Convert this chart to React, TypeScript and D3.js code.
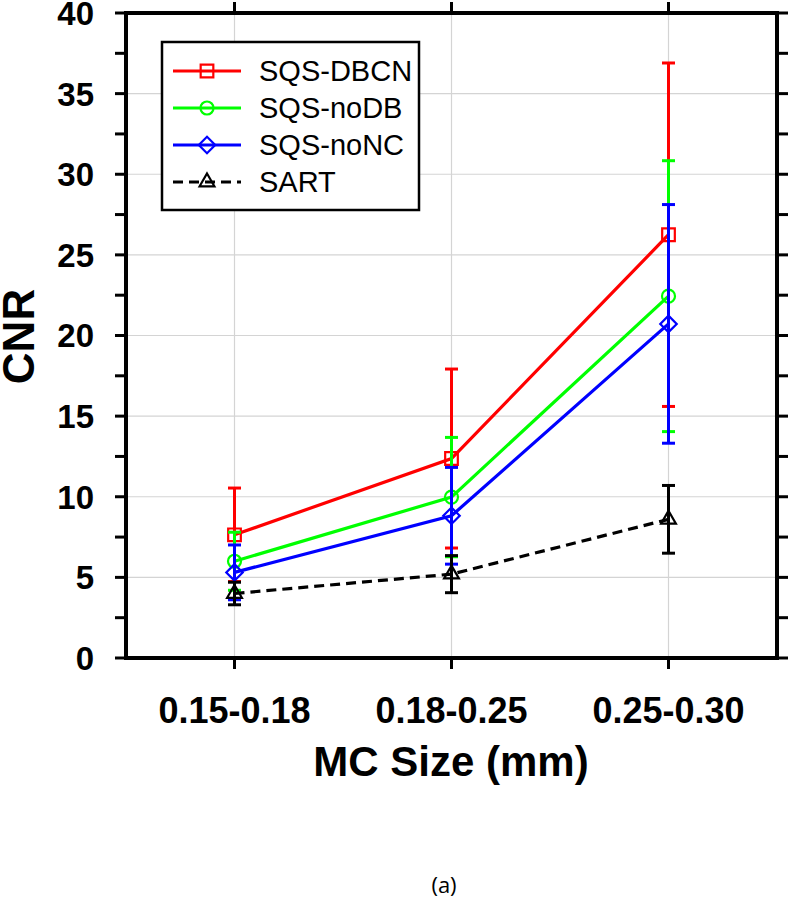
import React from "react";
import * as d3 from "d3";

const categories = ["0.15-0.18", "0.18-0.25", "0.25-0.30"];
const seriesNames = ["SQS-DBCN", "SQS-noDB", "SQS-noNC", "SART"];
const seriesColors = ["#ff0000", "#00ff00", "#0000ff", "#000000"];
const seriesSymbols = ["square", "circle", "diamond", "triangle"];
const dbcnMean = [7.64, 12.37, 26.25];
const dbcnErr = [2.9, 5.55, 10.65];
const nodbMean = [6.0, 9.98, 22.44];
const nodbErr = [1.8, 3.7, 8.4];
const noncMean = [5.31, 8.82, 20.72];
const noncErr = [1.7, 3.0, 7.4];
const sartMean = [4.0, 5.2, 8.6];
const sartErr = [0.7, 1.15, 2.1];
const yTicks = [0, 5, 10, 15, 20, 25, 30, 35, 40];
const yMinorTicks = [2.5, 7.5, 12.5, 17.5, 22.5, 27.5, 32.5, 37.5];

const means = [dbcnMean, nodbMean, noncMean, sartMean];
const errs = [dbcnErr, nodbErr, noncErr, sartErr];

const FONT = "'Liberation Sans', Arial, Helvetica, sans-serif";

const L = 126, R = 777, T = 13, B = 658;

function symbolPath(kind: string) {
  if (kind === "square") return d3.symbol(d3.symbolSquare, 160)() as string;
  if (kind === "circle") return d3.symbol(d3.symbolCircle, 133)() as string;
  if (kind === "diamond") return d3.symbol(d3.symbolSquare, 135)() as string;
  return d3.symbol(d3.symbolTriangle, 95)() as string;
}

function Marker({ kind, x, y, color }: { kind: string; x: number; y: number; color: string }) {
  const rot = kind === "diamond" ? " rotate(45)" : "";
  return (
    <path
      d={symbolPath(kind)}
      transform={`translate(${x},${y})${rot}`}
      fill="none"
      stroke={color}
      strokeWidth={2.2}
    />
  );
}

export default function App() {
  const x = d3.scalePoint<string>().domain(categories).range([L, R]).padding(0.5);
  const y = d3.scaleLinear().domain([0, 40]).range([B, T]);
  const line = d3
    .line<number>()
    .x((_, i) => x(categories[i]) as number)
    .y((d) => y(d));

  const tickLen = 11;

  return (
    <svg
      width={789}
      height={900}
      style={{ position: "absolute", left: 0, top: 0, display: "block", background: "#fff" }}
      fontFamily={FONT}
    >
      <rect x={0} y={0} width={789} height={900} fill="#fff" />
      {/* grid */}
      {yTicks.filter((t) => t > 0 && t < 40).map((t) => (
        <line key={"gy" + t} x1={L} x2={R} y1={y(t)} y2={y(t)} stroke="#d4d4d4" strokeWidth={1.2} />
      ))}
      {categories.map((c) => (
        <line key={"gx" + c} x1={x(c)} x2={x(c)} y1={T} y2={B} stroke="#d4d4d4" strokeWidth={1.2} />
      ))}

      {/* series */}
      {seriesNames.map((name, si) => {
        const col = seriesColors[si];
        const m = means[si];
        const e = errs[si];
        return (
          <g key={name}>
            <path
              d={line(m) as string}
              fill="none"
              stroke={col}
              strokeWidth={3.2}
              strokeDasharray={si === 3 ? "10,6" : undefined}
            />
            {m.map((v, i) => {
              const cx = x(categories[i]) as number;
              return (
                <g key={i}>
                  <line x1={cx} x2={cx} y1={y(v + e[i])} y2={y(v - e[i])} stroke={col} strokeWidth={3} />
                  <line x1={cx - 6.5} x2={cx + 6.5} y1={y(v + e[i])} y2={y(v + e[i])} stroke={col} strokeWidth={3} />
                  <line x1={cx - 6.5} x2={cx + 6.5} y1={y(v - e[i])} y2={y(v - e[i])} stroke={col} strokeWidth={3} />
                </g>
              );
            })}
            {m.map((v, i) => (
              <Marker key={"m" + i} kind={seriesSymbols[si]} x={x(categories[i]) as number} y={y(v)} color={col} />
            ))}
          </g>
        );
      })}

      {/* axes ticks */}
      {[...yTicks, ...yMinorTicks].map((t) => (
        <g key={"t" + t}>
          <line x1={L - tickLen} x2={L} y1={y(t)} y2={y(t)} stroke="#000" strokeWidth={3} />
          <line x1={R} x2={R + tickLen} y1={y(t)} y2={y(t)} stroke="#000" strokeWidth={3} />
        </g>
      ))}
      {categories.map((c) => (
        <g key={"xt" + c}>
          <line x1={x(c)} x2={x(c)} y1={B} y2={B + tickLen} stroke="#000" strokeWidth={3} />
          <line x1={x(c)} x2={x(c)} y1={T - tickLen} y2={T} stroke="#000" strokeWidth={3} />
        </g>
      ))}
      {/* frame */}
      <rect x={L} y={T} width={R - L} height={B - T} fill="none" stroke="#000" strokeWidth={4} />

      {/* y tick labels */}
      {yTicks.map((t) => (
        <text
          key={"yl" + t}
          x={94}
          y={y(t)}
          dy="0.36em"
          textAnchor="end"
          fontSize={33}
          fontWeight="bold"
        >
          {t}
        </text>
      ))}
      {/* x tick labels */}
      {categories.map((c) => (
        <text key={"xl" + c} x={x(c)} y={723} textAnchor="middle" fontSize={36} fontWeight="bold">
          {c}
        </text>
      ))}
      {/* axis titles */}
      <text x={451} y={776} textAnchor="middle" fontSize={42} fontWeight="bold">
        MC Size (mm)
      </text>
      <text
        transform={`translate(34,${(T + B) / 2 + 1}) rotate(-90)`}
        textAnchor="middle"
        fontSize={44}
        fontWeight="bold"
      >
        CNR
      </text>

      {/* legend */}
      <rect x={162} y={42} width={257} height={168} fill="#fff" stroke="#000" strokeWidth={2.5} />
      {seriesNames.map((name, si) => {
        const cy = 71 + si * 37;
        return (
          <g key={"lg" + name}>
            <line
              x1={173}
              x2={241}
              y1={cy}
              y2={cy}
              stroke={seriesColors[si]}
              strokeWidth={3}
              strokeDasharray={si === 3 ? "10,6" : undefined}
            />
            <Marker kind={seriesSymbols[si]} x={207} y={cy} color={seriesColors[si]} />
            <text x={259} y={cy} dy="0.36em" fontSize={29}>
              {name}
            </text>
          </g>
        );
      })}

      {/* caption */}
      <text x={444} y={893} textAnchor="middle" fontSize={22} fontFamily="'Open Sans', 'Liberation Sans', sans-serif">
        (a)
      </text>
    </svg>
  );
}
